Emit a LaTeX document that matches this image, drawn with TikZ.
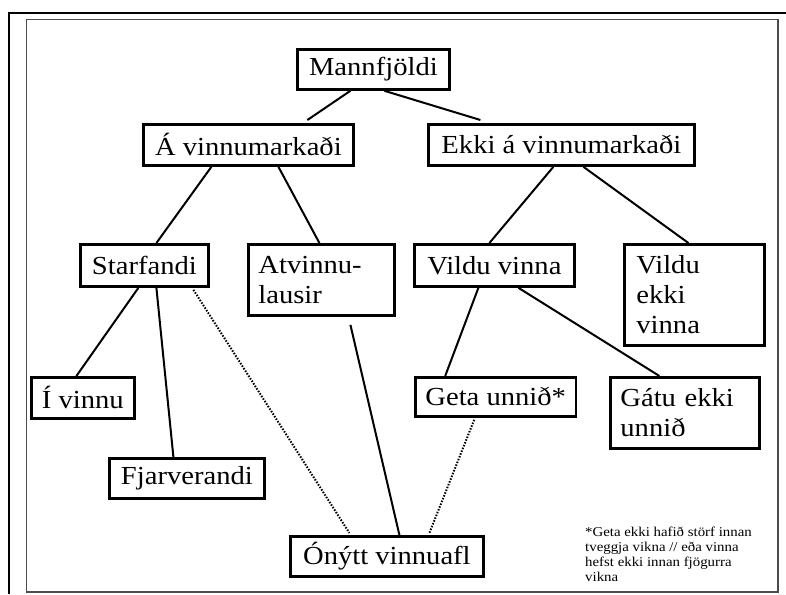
\documentclass[tikz,border=0pt]{standalone}
\usepackage{fontspec}
\setmainfont{Liberation Serif}[FakeStretch=1.1]
\usepackage{tikz}

\begin{document}
\begin{tikzpicture}[x=1pt, y=-1pt,
        box/.style={draw, line width=2.8pt, anchor=north west, inner xsep=10pt, inner ysep=0pt,
                font=\fontsize{26}{30}\selectfont},
        multi/.style={box, align=left},
        link/.style={line width=2pt},
        dotlink/.style={line width=2pt, dash pattern=on 1.5pt off 1.5pt}]

        \useasboundingbox (0, 0) rectangle (786, 594);
        \draw[line width=2.2pt] (9, 594) -- (9, 13) -- (786, 13);
        \draw[gray!60!black, line width=1.2pt] (26.5, 19.5) rectangle (778, 592);

        \node[box, minimum width=152, minimum height=40] (man) at (296, 48) {Mannfjöldi};
        \node[box, minimum width=210, minimum height=41] (avm) at (142, 123) {Á vinnumarkaði};
        \node[box, minimum width=266, minimum height=41] (ekki) at (427, 123) {Ekki á vinnumarkaði};
        \node[box, minimum width=128, minimum height=42] (starf) at (79, 243) {Starfandi};
        \node[multi, text width=126, minimum height=71] (atv) at (247, 243) {Atvinnu-\\lausir};
        \node[box, minimum width=160, minimum height=42] (vildu) at (413, 243) {Vildu vinna};
        \node[multi, text width=116, inner xsep=12pt, minimum height=101] (vek) at (623, 243) {Vildu\\ekki\\vinna};
        \node[box, minimum width=103, minimum height=41] (ivinnu) at (30, 376) {Í vinnu};
        \node[box, minimum width=155, minimum height=40] (fjar) at (108, 457) {Fjarverandi};
        \node[box, minimum width=159, minimum height=39] (geta) at (414, 376) {Geta unnið*};
        \node[multi, text width=129, minimum height=71] (gatu) at (609, 376) {Gátu ekki\\unnið};
        \node[box, minimum width=193, minimum height=40] (onytt) at (289, 535) {Ónýtt vinnuafl};
        \node[anchor=north west, inner sep=0pt, align=left, font=\fontsize{13.5}{15}\selectfont] (note) at (585, 527)
                {*Geta ekki hafið störf innan\\tveggja vikna // eða vinna\\hefst ekki innan fjögurra\\vikna};

        \draw[link] ([xshift=-23pt]man.south) -- ([xshift=59pt, yshift=3pt]avm.north);
        \draw[link] ([xshift=11pt]man.south) -- ([xshift=-81pt, yshift=3pt]ekki.north);
        \draw[link] ([xshift=-37pt]avm.south) -- ([xshift=12pt]starf.north);
        \draw[link] ([xshift=30pt]avm.south) -- ([xshift=-2pt]atv.north);
        \draw[link] ([xshift=-8pt]ekki.south) -- ([xshift=-5pt]vildu.north);
        \draw[link] ([xshift=22pt]ekki.south) -- ([xshift=-6pt]vek.north);
        \draw[link] ([xshift=-6pt]starf.south) -- ([xshift=-6.5pt]ivinnu.north);
        \draw[link] ([xshift=12pt]starf.south) -- ([xshift=-13.5pt]fjar.north);
        \draw[dotlink] ([xshift=49pt, yshift=-2pt]starf.south) -- ([xshift=-37.5pt, yshift=2pt]onytt.north);
        \draw[link] ([xshift=29pt, yshift=-8pt]atv.south) -- ([xshift=12.5pt]onytt.north);
        \draw[link] ([xshift=-16pt]vildu.south) -- ([xshift=-50.5pt]geta.north);
        \draw[link] ([xshift=24pt]vildu.south) -- ([xshift=-25.5pt]gatu.north);
        \draw[dotlink] ([xshift=-21.5pt, yshift=-2pt]geta.south) -- ([xshift=42.5pt, yshift=2pt]onytt.north);

\end{tikzpicture}
\end{document}
